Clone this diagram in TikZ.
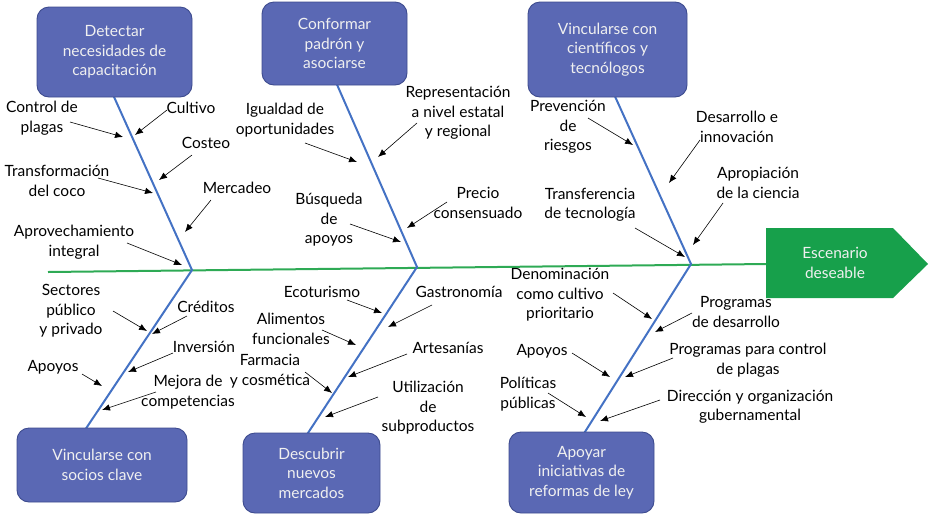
\documentclass[tikz,border=0pt]{standalone}
\usepackage{fontspec}
\setmainfont{Lato}
\usetikzlibrary{arrows.meta}
\definecolor{boxblue}{HTML}{5A68B4}
\definecolor{boxedge}{HTML}{3D4B8E}
\definecolor{bonecol}{HTML}{4472C4}
\definecolor{spinecol}{HTML}{2EAA55}
\definecolor{goalcol}{HTML}{17A04B}
\tikzset{
  lbl/.style={font=\fontsize{15.5}{19.5}\selectfont, align=center, inner sep=0pt, text=black},
  cause/.style={draw=boxedge, fill=boxblue, rounded corners=12pt, line width=0.9pt, text=white!94!black,
    align=center, font=\fontsize{15.5}{19.5}\selectfont, inner sep=0pt},
  arr/.style={-{Latex[length=8pt,width=6.5pt]}, line width=0.6pt, black},
  bone/.style={bonecol, line width=2pt},
  spine/.style={spinecol, line width=2pt},
}
\begin{document}
\begin{tikzpicture}[x=1pt,y=-1pt]
\useasboundingbox (0,0) rectangle (931,515);
% joints
\coordinate (J1) at (192,270);
\coordinate (J2) at (417,267);
\coordinate (J3) at (691,264);
\coordinate (S0) at (48,272);
\coordinate (T1) at (110,88);
\coordinate (T2) at (335,80);
\coordinate (T3) at (613,92);
\coordinate (B1) at (85,430);
\coordinate (B2) at (306,436);
\coordinate (B3) at (583,435);
% goal shape
\coordinate (G1) at (766,228);
\coordinate (G2) at (893,228);
\coordinate (G3) at (928,264);
\coordinate (G4) at (893,298);
\coordinate (G5) at (766,298);
\fill[goalcol] (G1) -- (G2) -- (G3) -- (G4) -- (G5) -- cycle;
\node[lbl, text=white!94!black] (goal) at (835,263) {Escenario\\deseable};
% spine and bones
\draw[spine] (S0) -- (G1 |- J3);
\draw[bone] (T1) -- (J1) -- (B1);
\draw[bone] (T2) -- (J2) -- (B2);
\draw[bone] (T3) -- (J3) -- (B3);
% cause boxes
\node[cause, minimum width=155pt, minimum height=90pt] (c1) at (114.5,52) {Detectar\\necesidades de\\capacitación};
\node[cause, minimum width=145pt, minimum height=83pt] (c2) at (334.5,43.5) {Conformar\\padrón y\\asociarse};
\node[cause, minimum width=159pt, minimum height=95pt] (c3) at (607.5,49.5) {Vincularse con\\científicos y\\tecnólogos};
\node[cause, minimum width=170pt, minimum height=74pt] (c4) at (102,465) {Vincularse con\\socios clave};
\node[cause, minimum width=137pt, minimum height=80pt] (c5) at (311.5,473) {Descubrir\\nuevos\\mercados};
\node[cause, minimum width=145pt, minimum height=81pt] (c6) at (581.5,472.5) {Apoyar\\iniciativas de\\reformas de ley};
% ---- top-left labels
\node[lbl] (l1) at (42,118) {Control de\\plagas};
\node[lbl] (l2) at (191,108) {Cultivo};
\node[lbl] (l3) at (206,143) {Costeo};
\node[lbl] (l4) at (57,181) {Transformación\\del coco};
\node[lbl] (l5) at (237,188) {Mercadeo};
\node[lbl] (l6) at (74,242) {Aprovechamiento\\integral};
\coordinate (a1s) at (70,122);  \coordinate (a1e) at (123,137);
\coordinate (a2s) at (167,110); \coordinate (a2e) at (135,135);
\coordinate (a3s) at (192,155); \coordinate (a3e) at (159,180);
\coordinate (a4s) at (98,178);  \coordinate (a4e) at (153,193);
\coordinate (a5s) at (211,200); \coordinate (a5e) at (185,232);
\coordinate (a6s) at (127,243); \coordinate (a6e) at (182,265);
\foreach \i in {1,...,6} \draw[arr] (a\i s) -- (a\i e);
% ---- top-middle labels
\node[lbl] (m1) at (285,120) {Igualdad de\\oportunidades};
\node[lbl] (m2) at (458,113) {Representación\\a nivel estatal\\y regional};
\node[lbl] (m3) at (329,220) {Búsqueda\\de\\apoyos};
\node[lbl] (m4) at (478,203) {Precio\\consensuado};
\coordinate (b1s) at (305,143); \coordinate (b1e) at (357,162);
\coordinate (b2s) at (417,123); \coordinate (b2e) at (378,157);
\coordinate (b3s) at (350,224); \coordinate (b3e) at (401,242);
\coordinate (b4s) at (447,202); \coordinate (b4e) at (407,228);
\foreach \i in {1,...,4} \draw[arr] (b\i s) -- (b\i e);
% ---- top-right labels
\node[lbl] (r1) at (568,127) {Prevención\\de\\riesgos};
\node[lbl] (r2) at (737,127) {Desarrollo e\\innovación};
\node[lbl] (r3) at (758,183) {Apropiación\\de la ciencia};
\node[lbl] (r4) at (590,205) {Transferencia\\de tecnología};
\coordinate (c1s) at (588,118); \coordinate (c1e) at (633,145);
\coordinate (c2s) at (700,140); \coordinate (c2e) at (669,183);
\coordinate (c3s) at (723,203); \coordinate (c3e) at (693,245);
\coordinate (c4s) at (635,228); \coordinate (c4e) at (685,257);
\foreach \i in {1,...,4} \draw[arr] (c\i s) -- (c\i e);
% ---- bottom-left labels
\node[lbl] (p1) at (71,311) {Sectores\\público\\y privado};
\node[lbl] (p2) at (206,307) {Créditos};
\node[lbl] (p3) at (204,347) {Inversión};
\node[lbl] (p4) at (53,367) {Apoyos};
\node[lbl] (p5) at (188,392) {Mejora de\\competencias};
\coordinate (d1s) at (113,311); \coordinate (d1e) at (147,331);
\coordinate (d2s) at (187,316); \coordinate (d2e) at (152,334);
\coordinate (d3s) at (173,353); \coordinate (d3e) at (128,372);
\coordinate (d4s) at (82,374);  \coordinate (d4e) at (102,386);
\coordinate (d5s) at (156,392); \coordinate (d5e) at (102,410);
\foreach \i in {1,...,5} \draw[arr] (d\i s) -- (d\i e);
% ---- bottom-middle labels
\node[lbl] (q1) at (322,292) {Ecoturismo};
\node[lbl] (q2) at (459,292) {Gastronomía};
\node[lbl] (q3) at (291,329) {Alimentos\\funcionales};
\node[lbl] (q4) at (448,348) {Artesanías};
\node[lbl] (q5) at (270,371) {Farmacia\\y cosmética};
\node[lbl] (q6) at (428,408) {Utilización\\de\\subproductos};
\coordinate (e1s) at (347,300); \coordinate (e1e) at (382,313);
\coordinate (e2s) at (432,305); \coordinate (e2e) at (388,327);
\coordinate (e3s) at (322,330); \coordinate (e3e) at (356,345);
\coordinate (e4s) at (407,354); \coordinate (e4e) at (348,377);
\coordinate (e5s) at (305,372); \coordinate (e5e) at (332,393);
\coordinate (e6s) at (378,397); \coordinate (e6e) at (325,417);
\foreach \i in {1,...,6} \draw[arr] (e\i s) -- (e\i e);
% ---- bottom-right labels
\node[lbl] (s1) at (560,295) {Denominación\\como cultivo\\prioritario};
\node[lbl] (s2) at (736,312) {Programas\\de desarrollo};
\node[lbl] (s3) at (542,351) {Apoyos};
\node[lbl] (s4) at (748,360) {Programas para control\\de plagas};
\node[lbl] (s5) at (528,394) {Políticas\\públicas};
\node[lbl] (s6) at (750,407) {Dirección y organización\\gubernamental};
\coordinate (f1s) at (613,293); \coordinate (f1e) at (652,319);
\coordinate (f2s) at (692,313); \coordinate (f2e) at (655,332);
\coordinate (f3s) at (572,353); \coordinate (f3e) at (610,377);
\coordinate (f4s) at (673,358); \coordinate (f4e) at (625,377);
\coordinate (f5s) at (548,393); \coordinate (f5e) at (586,417);
\coordinate (f6s) at (660,400); \coordinate (f6e) at (600,421);
\foreach \i in {1,...,6} \draw[arr] (f\i s) -- (f\i e);
\end{tikzpicture}
\end{document}
